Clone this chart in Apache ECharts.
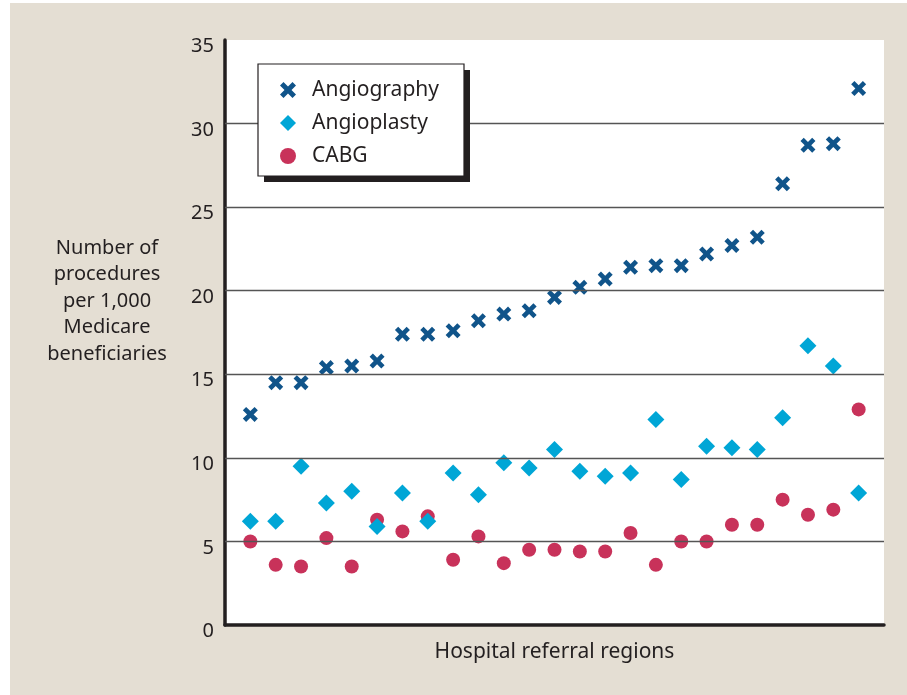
<!DOCTYPE html>
<html>
<head>
<meta charset="utf-8">
<script src="https://cdn.jsdelivr.net/npm/echarts@6/dist/echarts.min.js"></script>
<style>
  html, body { margin: 0; padding: 0; background: #fff; }
  #chart { position: absolute; left: 10px; top: 3px; width: 897px; height: 692px; }
</style>
</head>
<body>
<div id="chart"></div>
<script>
// hospital referral regions, sorted by angiography rate
var regions = [1, 2, 3, 4, 5, 6, 7, 8, 9, 10, 11, 12, 13, 14, 15, 16, 17, 18, 19, 20, 21, 22, 23, 24, 25];
var angiography = [12.6, 14.5, 14.5, 15.4, 15.5, 15.8, 17.4, 17.4, 17.6, 18.2, 18.6, 18.8, 19.6, 20.2, 20.7, 21.4, 21.5, 21.5, 22.2, 22.7, 23.2, 26.4, 28.7, 28.8, 32.1];
var angioplasty = [6.2, 6.2, 9.5, 7.3, 8.0, 5.9, 7.9, 6.2, 9.1, 7.8, 9.7, 9.4, 10.5, 9.2, 8.9, 9.1, 12.3, 8.7, 10.7, 10.6, 10.5, 12.4, 16.7, 15.5, 7.9];
var cabg = [5.0, 3.6, 3.5, 5.2, 3.5, 6.3, 5.6, 6.5, 3.9, 5.3, 3.7, 4.5, 4.5, 4.4, 4.4, 5.5, 3.6, 5.0, 5.0, 6.0, 6.0, 7.5, 6.6, 6.9, 12.9];
var gridValues = [5, 10, 15, 20, 25, 30];

var ink = '#231f20';
var font = 'Noto Sans';
var crossPath = 'path://M3.5,0 L8,4.5 L12.5,0 L16,3.5 L11.5,8 L16,12.5 L12.5,16 L8,11.5 L3.5,16 L0,12.5 L4.5,8 L0,3.5 Z';

function pairs(values) {
    var out = [];
    for (var i = 0; i < values.length; i++) {
        out.push([regions[i], values[i]]);
    }
    return out;
}

var myChart = echarts.init(document.getElementById('chart'));
myChart.setOption({
    backgroundColor: '#e4ded3',
    animation: false,
    textStyle: { fontFamily: font, color: ink },
    grid: {
        left: 215, right: 23, top: 37, bottom: 70,
        show: true, backgroundColor: '#fff', borderWidth: 0
    },
    // legend frame with its drop shadow, and the y axis title
    graphic: [{
        type: 'rect', z: 6,
        shape: { x: 254, y: 67, width: 206, height: 112 },
        style: { fill: ink }
    }, {
        type: 'rect', z: 7,
        shape: { x: 248, y: 61, width: 206, height: 112 },
        style: { fill: '#fff', stroke: ink, lineWidth: 1.2 }
    }, {
        type: 'text', z: 7,
        x: 97, y: 298,
        style: {
            text: 'Number of\nprocedures\nper 1,000\nMedicare\nbeneficiaries',
            font: '20px "Noto Sans"', fill: ink, lineHeight: 26.5,
            align: 'center', verticalAlign: 'middle'
        }
    }],
    legend: {
        data: ['Angiography', 'Angioplasty', 'CABG'],
        orient: 'vertical', z: 10,
        left: 270, top: 76,
        padding: 0,
        itemWidth: 16, itemHeight: 16, itemGap: 11,
        textStyle: { fontFamily: font, fontSize: 21, color: ink, lineHeight: 22, padding: [0, 0, 0, 11] }
    },
    xAxis: {
        type: 'value', min: 0, max: 26,
        name: 'Hospital referral regions',
        nameLocation: 'middle', nameGap: 17,
        nameTextStyle: { fontFamily: font, fontSize: 21, color: ink },
        axisLine: { show: true, lineStyle: { color: ink, width: 3.5 } },
        axisTick: { show: false }, axisLabel: { show: false }, splitLine: { show: false }
    },
    yAxis: {
        type: 'value', min: 0, max: 35, interval: 5,
        axisLine: { show: true, lineStyle: { color: ink, width: 3.5 } },
        axisTick: { show: false },
        axisLabel: {
            fontFamily: font, fontSize: 20, color: ink, margin: 11,
            verticalAlign: 'top', lineHeight: 13
        },
        splitLine: { show: false }
    },
    series: [{
        name: 'Angiography', type: 'scatter', z: 4,
        symbol: crossPath, symbolSize: 15,
        itemStyle: { color: '#10548a', opacity: 1 },
        data: pairs(angiography),
        markLine: {
            silent: true, symbol: 'none', animation: false,
            label: { show: false },
            lineStyle: { color: '#555', width: 1.3, type: 'solid' },
            data: gridValues.map(function (v) { return { yAxis: v }; })
        }
    }, {
        name: 'Angioplasty', type: 'scatter', z: 3,
        symbol: 'diamond', symbolSize: 17,
        itemStyle: { color: '#00a6d6', opacity: 1 },
        data: pairs(angioplasty)
    }, {
        name: 'CABG', type: 'scatter', z: 2,
        symbol: 'circle', symbolSize: 14,
        itemStyle: { color: '#c8325a', opacity: 1 },
        data: pairs(cabg)
    }]
});
</script>
</body>
</html>
